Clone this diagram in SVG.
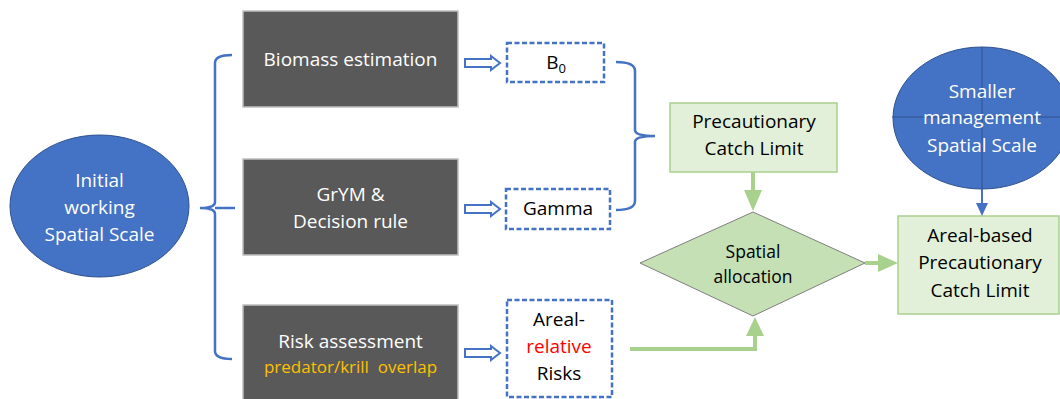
<svg xmlns="http://www.w3.org/2000/svg" width="1060" height="399" viewBox="0 0 1060 399">
<style>
text{font-family:"Open Sans","Noto Sans","Liberation Sans",sans-serif;font-size:19px;text-anchor:middle}
text.sm{font-size:17.5px}
text.or{font-size:17px;fill:#FFC000}
.w{fill:#FFFFFF}
.k{fill:#000000}
.ell{fill:#4472C4;stroke:#2F528F;stroke-width:1}
.dark{fill:#595959;stroke:#BFBFBF;stroke-width:1.5}
.dash{fill:#FFFFFF;stroke:#4472C4;stroke-width:2.5;stroke-dasharray:5 2.5}
.gbox{fill:#E2F0D9;stroke:#A9D18E;stroke-width:1.5}
.brace{fill:none;stroke:#4472C4;stroke-width:2.5}
.hollow{fill:#FFFFFF;stroke:#4472C4;stroke-width:2}
.gline{fill:none;stroke:#A9D18E;stroke-width:4}
.ghead{fill:#A9D18E}
</style>
<rect width="1060" height="399" fill="#FFFFFF"/>

<g id="initial-scale">
<ellipse class="ell" cx="99.5" cy="206" rx="89.5" ry="71"/>
<text class="w" x="99.5" y="187">Initial</text>
<text class="w" x="99.5" y="214">working</text>
<text class="w" x="99.5" y="241">Spatial Scale</text>
</g>

<g id="biomass">
<rect class="dark" x="243" y="11" width="215" height="96"/>
<text class="w" x="350.5" y="66">Biomass estimation</text>
</g>

<g id="grym">
<rect class="dark" x="243" y="159" width="215" height="96"/>
<text class="w" x="350.5" y="201">GrYM &amp;</text>
<text class="w" x="350.5" y="228">Decision rule</text>
</g>

<g id="risk">
<rect class="dark" x="243" y="305" width="215" height="100"/>
<text class="w" x="350.5" y="348">Risk assessment</text>
<text class="or" x="350.5" y="373" xml:space="preserve">predator/krill  overlap</text>
</g>

<g id="b0">
<rect class="dash" x="507" y="43" width="97" height="39"/>
<text class="k" x="556" y="69">B<tspan font-size="13" dy="4">0</tspan></text>
</g>

<g id="gamma">
<rect class="dash" x="506" y="189" width="104" height="40"/>
<text class="k" x="558" y="215">Gamma</text>
</g>

<g id="areal-risks">
<rect class="dash" x="507" y="300" width="105" height="97"/>
<text class="k" x="559" y="326">Areal-</text>
<text x="559" y="353" style="fill:#FF0000">relative</text>
<text class="k" x="559" y="380">Risks</text>
</g>

<g id="pcl">
<rect class="gbox" x="670" y="103" width="167" height="69"/>
<text class="k" x="754" y="128">Precautionary</text>
<text class="k" x="754" y="155">Catch Limit</text>
</g>

<g id="spatial-allocation">
<polygon points="753,212 865,263 753,316 640,263" fill="#C5E0B4" stroke="#7F7F7F" stroke-width="1"/>
<text class="k sm" x="753" y="258">Spatial</text>
<text class="k sm" x="753" y="283">allocation</text>
</g>

<g id="smaller-scale">
<ellipse class="ell" cx="982" cy="118" rx="89" ry="71"/>
<line x1="982" y1="47" x2="982" y2="189" stroke="#2F528F" stroke-width="1"/>
<line x1="892" y1="117" x2="1060" y2="117" stroke="#2F528F" stroke-width="1"/>
<text class="w" x="982" y="98">Smaller</text>
<text class="w" x="982" y="124">management</text>
<text class="w" x="982" y="152">Spatial Scale</text>
</g>

<g id="areal-pcl">
<rect class="gbox" x="898" y="216" width="161" height="98"/>
<text class="k" x="980" y="242">Areal-based</text>
<text class="k" x="980" y="269">Precautionary</text>
<text class="k" x="980" y="297">Catch Limit</text>
</g>

<g id="connectors">
<path class="brace" d="M232,55 Q215,55 215,63 V202 Q215,208 200,208 Q215,208 215,214 V351 Q215,359 232,359"/>
<line x1="215" y1="208" x2="235" y2="208" stroke="#4472C4" stroke-width="2.5"/>
<path class="hollow" d="M465,59 H491 V56 L500,63 L491,70 V67 H465 Z"/>
<path class="hollow" d="M465,205 H491 V202 L500,209 L491,216 V213 H465 Z"/>
<path class="hollow" d="M465,349 H491 V346 L500,353 L491,360 V357 H465 Z"/>
<path class="brace" d="M616,62 Q635,62 635,71 V130 Q635,136 655,136 Q635,136 635,142 V201 Q635,210 616,210"/>
<path class="gline" d="M753,172 V192"/>
<polygon class="ghead" points="744,190 762,190 753,211"/>
<path class="gline" d="M630,349 H755 V334"/>
<polygon class="ghead" points="746,336 764,336 755,317"/>
<path class="gline" d="M865,263 H880"/>
<polygon class="ghead" points="878,254 878,272 898,263"/>
<line x1="982" y1="189" x2="982" y2="205" stroke="#4472C4" stroke-width="2"/>
<polygon points="976,203 988,203 982,216" fill="#4472C4"/>
</g>
</svg>
